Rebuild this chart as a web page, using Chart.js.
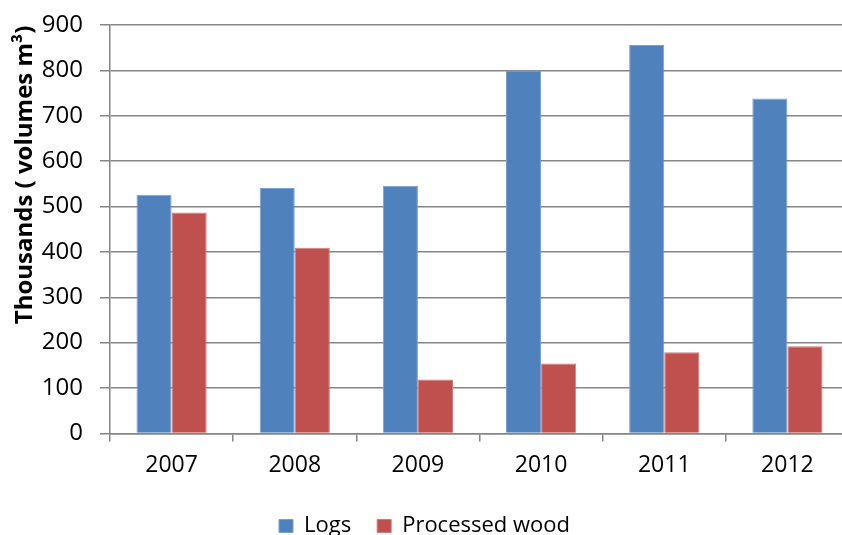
<!DOCTYPE html>
<html>
<head>
<meta charset="utf-8">
<script src="https://cdn.jsdelivr.net/npm/chart.js@4/dist/chart.umd.min.js"></script>
<style>
  html, body { margin: 0; padding: 0; background: #fff; overflow: hidden; }
  #wrap { width: 849px; height: 535px; }
</style>
</head>
<body>
<div id="wrap"><canvas id="woodChart" width="849" height="535"></canvas></div>
<script>
const years = ["2007", "2008", "2009", "2010", "2011", "2012"];
const logs = [526, 541, 546, 800, 856, 738];
const processedWood = [487, 409, 119, 154, 179, 192];
const yTitle = "Thousands ( volumes m\u00B3)";

const FONT = "'Open Sans', sans-serif";

// axis title is off-centre in the original, so draw it by hand
const yTitlePlugin = {
  id: "yTitle",
  afterDraw(chart) {
    const ctx = chart.ctx;
    ctx.save();
    ctx.translate(32, 175);
    ctx.rotate(-Math.PI / 2);
    ctx.font = "bold 24px " + FONT;
    ctx.fillStyle = "#000";
    ctx.textAlign = "center";
    ctx.textBaseline = "alphabetic";
    ctx.fillText(yTitle, 0, 0);
    ctx.restore();
  }
};

new Chart(document.getElementById("woodChart").getContext("2d"), {
  type: "bar",
  data: {
    labels: years,
    datasets: [
      {
        label: "Logs",
        data: logs,
        backgroundColor: "#4F81BD",
        borderColor: "#7B9FD0",
        borderWidth: 1,
        categoryPercentage: 0.57,
        barPercentage: 1.0
      },
      {
        label: "Processed wood",
        data: processedWood,
        backgroundColor: "#C0504D",
        borderColor: "#D27C7A",
        borderWidth: 1,
        categoryPercentage: 0.57,
        barPercentage: 1.0
      }
    ]
  },
  options: {
    responsive: false,
    animation: false,
    layout: { padding: { left: 0, top: 25, right: 0, bottom: -12 } },
    plugins: {
      tooltip: { enabled: false },
      legend: {
        display: true,
        position: "bottom",
        labels: {
          font: { family: FONT, size: 22 },
          color: "#000",
          boxWidth: 14,
          boxHeight: 13,
          padding: 26,
          useBorderRadius: false
        }
      }
    },
    scales: {
      x: {
        offset: true,
        grid: {
          offset: true,
          drawOnChartArea: false,
          drawTicks: true,
          tickLength: 8,
          color: "#868686",
          lineWidth: 1.5
        },
        border: { color: "#868686", width: 1.5 },
        ticks: {
          font: { family: FONT, size: 23 },
          color: "#000",
          padding: 10
        }
      },
      y: {
        min: 0,
        max: 900,
        afterFit(scale) { scale.width = 110; },
        ticks: {
          stepSize: 100,
          font: { family: FONT, size: 24, lineHeight: 0.5 },
          color: "#000",
          padding: 17
        },
        grid: {
          color: "#868686",
          lineWidth: 1.5,
          tickLength: 10
        },
        border: { color: "#868686", width: 1.5 }
      }
    }
  },
  plugins: [yTitlePlugin]
});
</script>
</body>
</html>
